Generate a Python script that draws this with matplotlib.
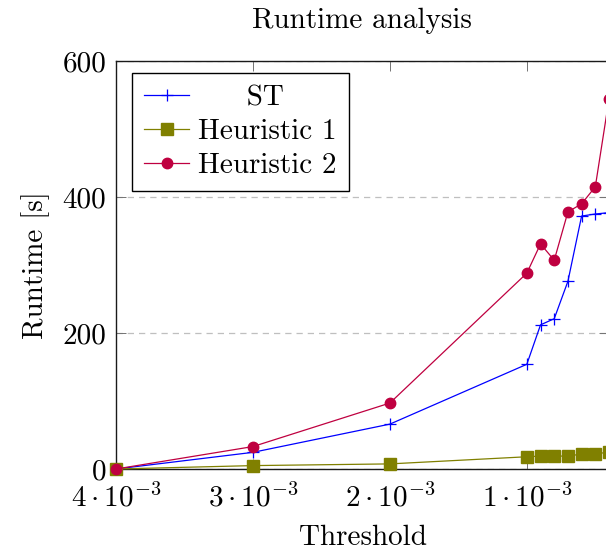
import matplotlib
matplotlib.use("Agg")
import matplotlib.pyplot as plt

plt.rcParams['font.family'] = ['cmr10', 'DejaVu Serif']
plt.rcParams['mathtext.fontset'] = 'cm'
plt.rcParams['axes.unicode_minus'] = False

thresholds = [4.0e-3, 3.0e-3, 2.0e-3, 1.0e-3, 0.9e-3, 0.8e-3, 0.7e-3, 0.6e-3, 0.5e-3, 0.4e-3]
st = [0, 24.5, 66, 154, 212, 221, 276, 372, 375, 377]
heur1 = [0, 5, 7.5, 18, 19, 19, 19, 22, 22, 25]
heur2 = [0, 33, 97, 288, 331, 307, 378, 390, 415, 544]

xticks = [4e-3, 3e-3, 2e-3, 1e-3]
xtick_labels = [r'$4\cdot10^{-3}$', r'$3\cdot10^{-3}$', r'$2\cdot10^{-3}$', r'$1\cdot10^{-3}$']
yticks = [0, 200, 400, 600]

FS = 21
fig = plt.figure(figsize=(6.06, 5.5), dpi=100)
ax = fig.add_axes([116/606, 1 - 469/550, (609 - 116)/606, (469 - 61)/550])

ax.plot(thresholds, st, color='#0000ff', lw=0.9, marker='+', ms=9, mew=0.9,
        label='     ST', clip_on=False, zorder=3)
ax.plot(thresholds, heur1, color='#808000', lw=0.9, marker='s', ms=8.5,
        label='Heuristic 1', clip_on=False, zorder=3)
ax.plot(thresholds, heur2, color='#bf0040', lw=0.9, marker='o', ms=7.5,
        label='Heuristic 2', clip_on=False, zorder=3)

ax.set_xlim(4e-3, 0.4e-3)
ax.set_ylim(0, 600)
ax.set_xticks(xticks)
ax.set_xticklabels(xtick_labels, fontsize=FS)
ax.set_yticks(yticks)
ax.set_yticklabels([str(v) for v in yticks], fontsize=FS)
ax.tick_params(direction='in', length=7.5, width=0.7, color='0.45',
               top=True, right=True, pad=7)
ax.tick_params(axis='x', pad=10)

ax.yaxis.grid(True, linestyle=(0, (5, 4)), color='0.75', lw=0.9)
ax.set_axisbelow(True)
for s in ax.spines.values():
    s.set_linewidth(1.0)
    s.set_color('0.1')

ax.set_xlabel('Threshold', fontsize=FS, labelpad=9)
ax.set_ylabel('Runtime [s]', fontsize=FS, labelpad=9)
fig.text(362/606, 1 - 21/550, 'Runtime analysis', fontsize=FS, ha='center', va='center')

leg = ax.legend(loc='upper left', bbox_to_anchor=(16/493, 1 - 12/408),
                bbox_transform=ax.transAxes, fontsize=FS, frameon=True, fancybox=False,
                edgecolor='black', framealpha=1, handlelength=1.55, handletextpad=0.3,
                borderpad=0.42, labelspacing=0.25, borderaxespad=0)
leg.get_frame().set_linewidth(1.0)

fig.savefig('out.png', dpi=100)
